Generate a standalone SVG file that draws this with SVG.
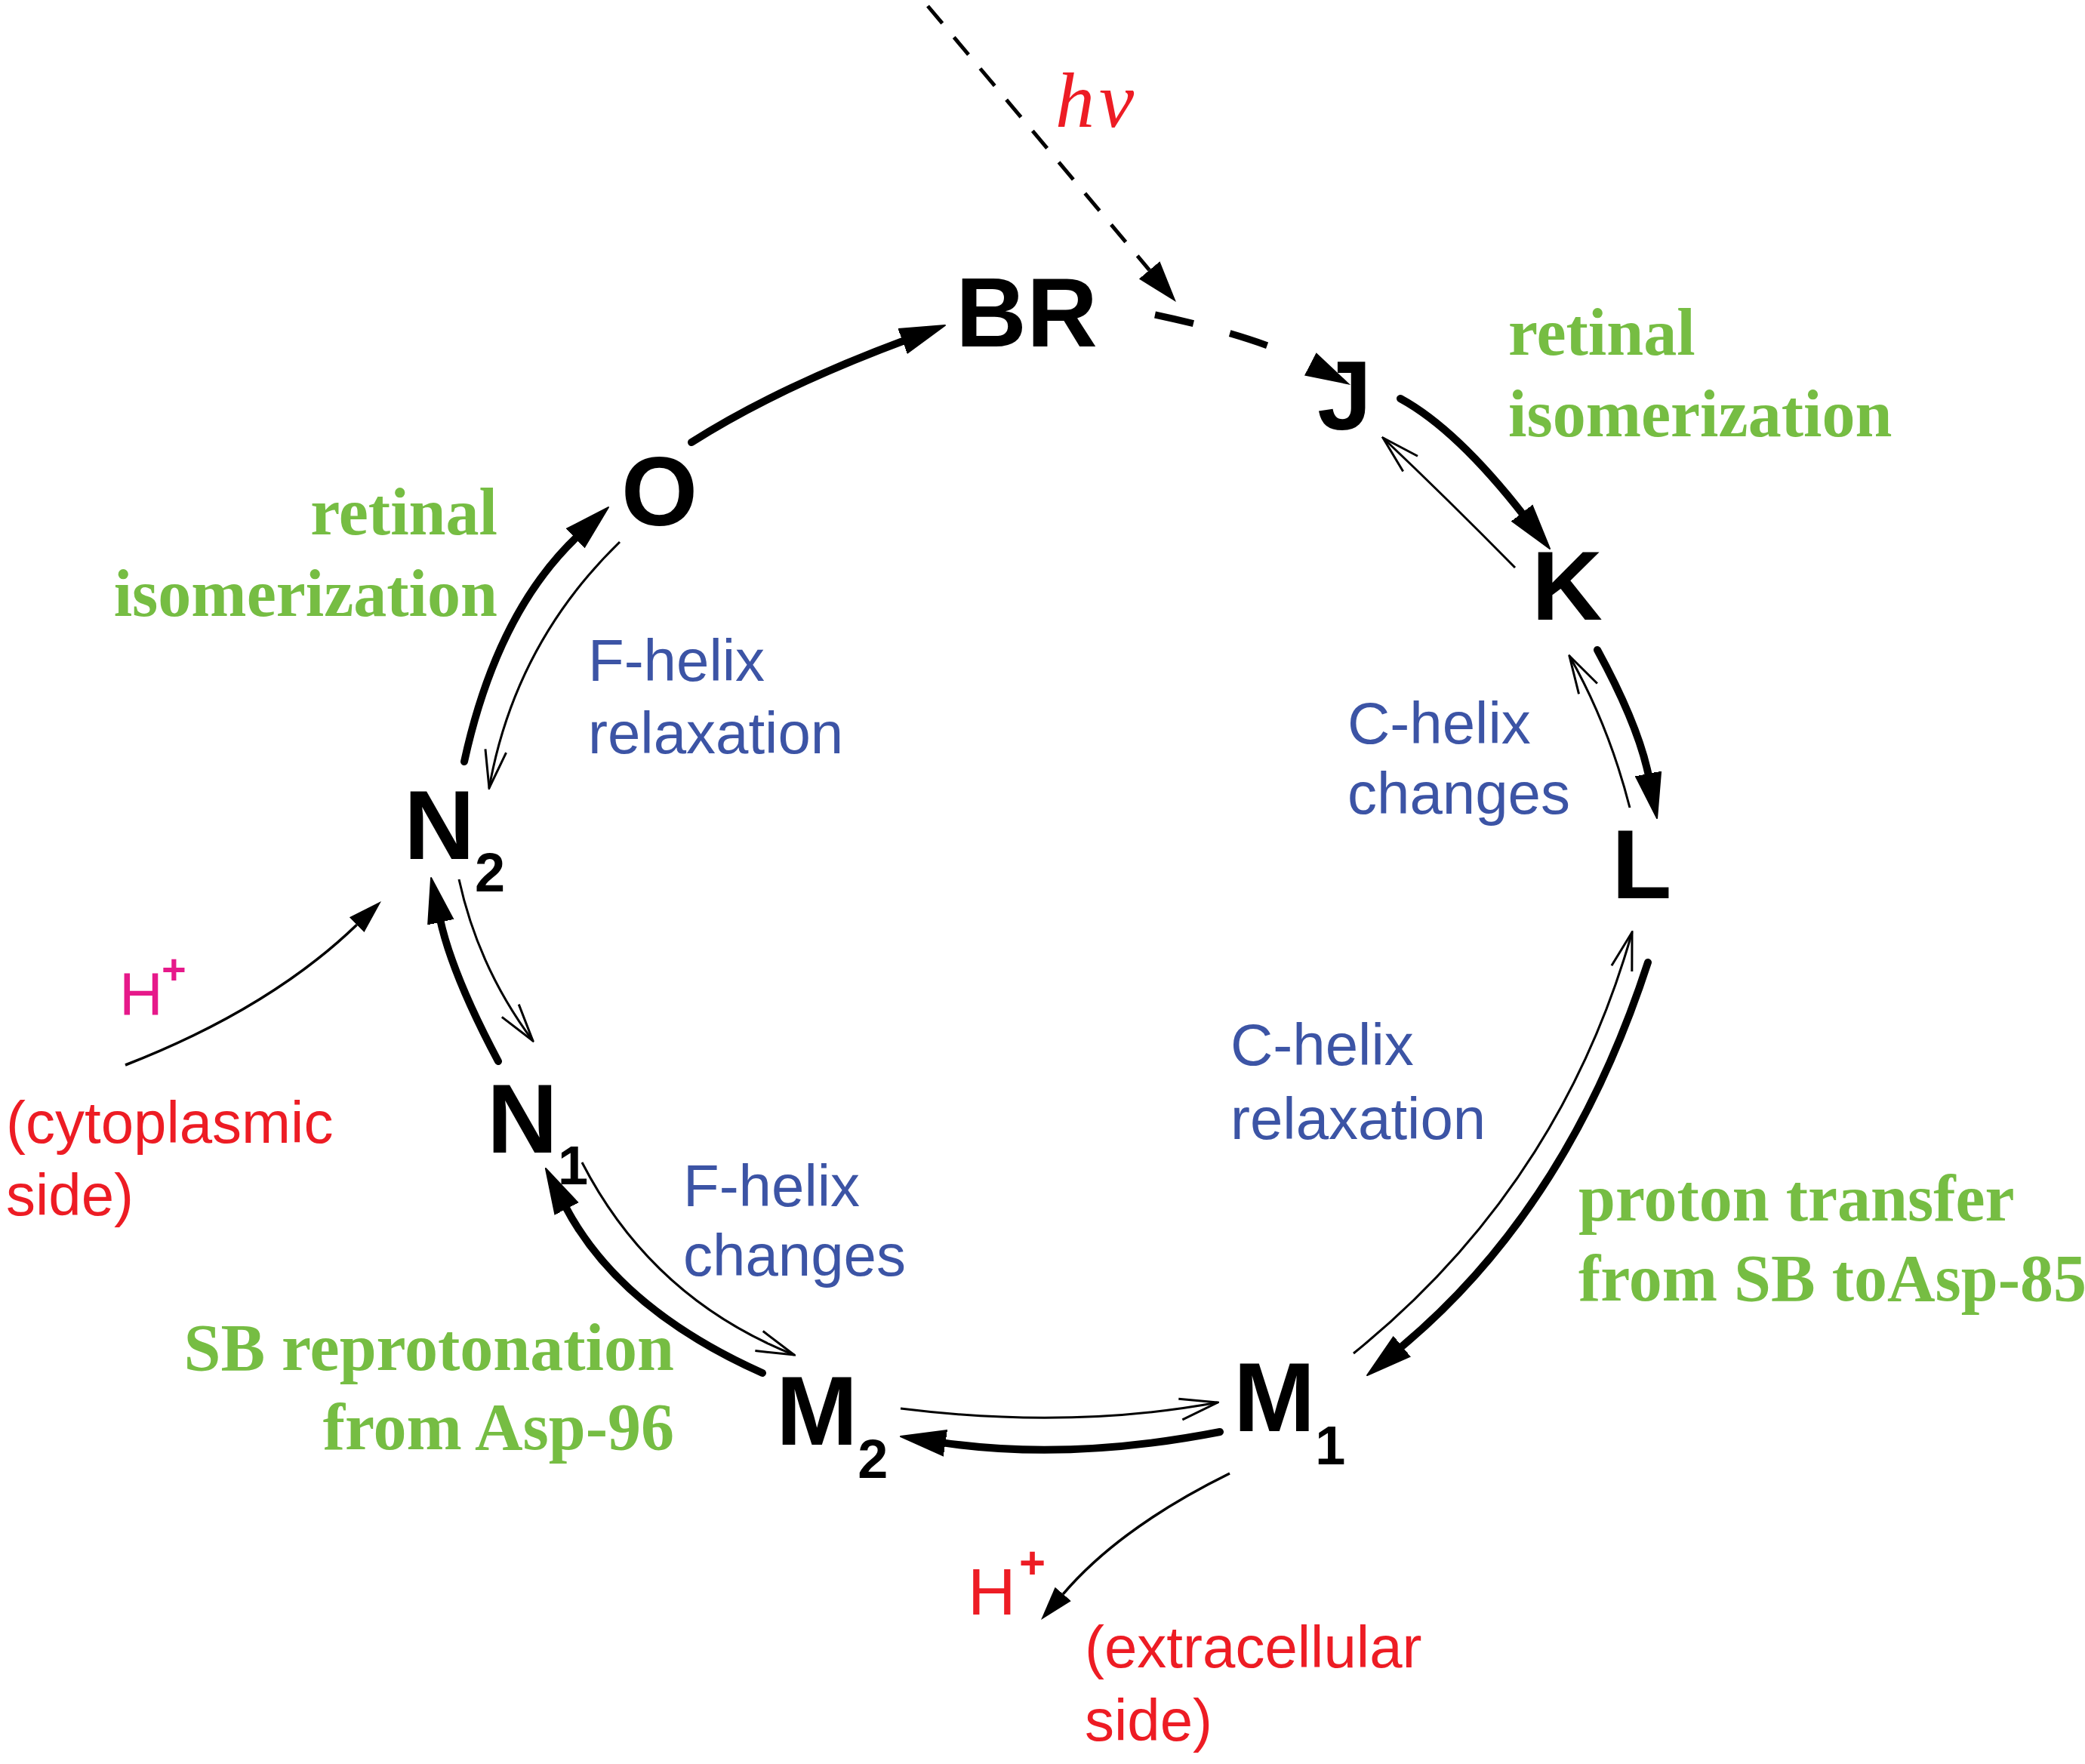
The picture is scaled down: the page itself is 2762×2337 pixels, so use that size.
<svg xmlns="http://www.w3.org/2000/svg" width="2762" height="2337" viewBox="0 0 2762 2337">
<style>
.node{font-family:"Liberation Sans",Arial,sans-serif;font-weight:bold;font-size:130px;fill:#000}
.green{font-family:"Liberation Serif","Times New Roman",serif;font-weight:bold;font-size:88px;fill:#76bd43}
.blue{font-family:"Liberation Sans",Arial,sans-serif;font-size:78px;fill:#3c54a5}
.red{font-family:"Liberation Sans",Arial,sans-serif;font-size:78px;fill:#ed1c24}
.thick{fill:none;stroke:#000;stroke-width:10;stroke-linecap:round}
.thin{fill:none;stroke:#000;stroke-width:3}
.med{fill:none;stroke:#000;stroke-width:3.5}
</style>
<defs>
<marker id="hThick" viewBox="0 -20 62 40" markerWidth="62" markerHeight="40" refX="5" refY="0" orient="auto" markerUnits="userSpaceOnUse"><path d="M0,-17 L60,0 L0,17 z" fill="#000" stroke="#000" stroke-width="2" stroke-linejoin="round"/></marker>
<marker id="hDash" viewBox="0 -20 62 40" markerWidth="62" markerHeight="40" refX="0" refY="0" orient="auto" markerUnits="userSpaceOnUse"><path d="M0,-17 L60,0 L0,17 z" fill="#000"/></marker>
<marker id="hNu" viewBox="0 -20 56 40" markerWidth="56" markerHeight="40" refX="0" refY="0" orient="auto" markerUnits="userSpaceOnUse"><path d="M0,-18 L55,0 L0,18 z" fill="#000"/></marker>
<marker id="hMed" viewBox="0 -16 47 32" markerWidth="47" markerHeight="32" refX="0" refY="0" orient="auto" markerUnits="userSpaceOnUse"><path d="M0,-14 L45,0 L0,14 z" fill="#000"/></marker>
<marker id="hOpen" viewBox="-54 -17 56 34" markerWidth="56" markerHeight="34" refX="0" refY="0" orient="auto" markerUnits="userSpaceOnUse"><path d="M-50,-14 L0,0 L-50,14" fill="none" stroke="#000" stroke-width="3"/></marker>
</defs>
<rect width="2762" height="2337" fill="#fff"/>

<g id="connectors">
<path d="M1229,8 L1522.6,357.9" fill="none" stroke="#000" stroke-width="5" stroke-dasharray="30 24" marker-end="url(#hNu)"/>
<path d="M1530,417 Q1665.7,445.9 1735.8,482.3" fill="none" stroke="#000" stroke-width="9" stroke-dasharray="52 50 52 300" marker-end="url(#hDash)"/>
<path class="thick" d="M916,586 Q1030,513.5 1200.4,450.2" marker-end="url(#hThick)"/>
<path class="thick" d="M1855,528 Q1929.5,568.5 2019.2,683.6" marker-end="url(#hThick)"/>
<path class="thick" d="M2116,861 Q2171,962 2184.4,1030" marker-end="url(#hThick)"/>
<path class="thick" d="M2183,1275 Q2077,1601.5 1853.4,1786.9" marker-end="url(#hThick)"/>
<path class="thick" d="M1616,1897 Q1415.5,1936 1247.4,1911.1" marker-end="url(#hThick)"/>
<path class="thick" d="M1010,1819 Q819,1733.7 748.2,1596.9" marker-end="url(#hThick)"/>
<path class="thick" d="M660,1406 Q598.7,1290.7 582.7,1216.7" marker-end="url(#hThick)"/>
<path class="thick" d="M615,1009 Q658.3,810.9 765.9,709.7" marker-end="url(#hThick)"/>
<path class="thin" d="M2007,752 Q1916.5,660 1832,580" marker-end="url(#hOpen)"/>
<path class="thin" d="M2159,1070 Q2131,960.5 2079,869" marker-end="url(#hOpen)"/>
<path class="thin" d="M1793,1793 Q2066.5,1572 2162,1235" marker-end="url(#hOpen)"/>
<path class="thin" d="M1193,1866 Q1417,1894 1613,1858" marker-end="url(#hOpen)"/>
<path class="thin" d="M771,1540 Q863.7,1720.1 1052,1795" marker-end="url(#hOpen)"/>
<path class="thin" d="M608,1165 Q633.8,1282.6 706,1379" marker-end="url(#hOpen)"/>
<path class="thin" d="M821,718 Q681.9,853 648,1044" marker-end="url(#hOpen)"/>
<path class="med" d="M166,1411 Q357.3,1336.5 472.6,1225.2" marker-end="url(#hMed)"/>
<path class="med" d="M1629,1952 Q1484,2023.4 1408.3,2111.8" marker-end="url(#hMed)"/>
</g>

<g id="BR"><text class="node" x="1266" y="459">BR</text></g>
<g id="J"><text class="node" x="1745" y="569">J</text></g>
<g id="K"><text class="node" x="2029" y="821">K</text></g>
<g id="L"><text class="node" x="2135" y="1190">L</text></g>
<g id="M1"><text class="node" x="1634" y="1896">M<tspan dy="44" font-size="72">1</tspan></text></g>
<g id="M2"><text class="node" x="1028" y="1914">M<tspan dy="44" font-size="72">2</tspan></text></g>
<g id="N1"><text class="node" x="645" y="1527">N<tspan dy="42" font-size="72">1</tspan></text></g>
<g id="N2"><text class="node" x="535" y="1138">N<tspan dy="43" font-size="72">2</tspan></text></g>
<g id="O"><text class="node" x="823" y="696">O</text></g>

<g id="labels">
<text x="1398" y="168" font-family="Liberation Serif,serif" font-style="italic" font-size="104" letter-spacing="6" fill="#ed1c24">hν</text>
<text class="green" x="1998" y="470">retinal</text>
<text class="green" x="1998" y="578">isomerization</text>
<text class="green" x="659" y="708" text-anchor="end">retinal</text>
<text class="green" x="659" y="816" text-anchor="end">isomerization</text>
<text class="green" x="2091" y="1617">proton transfer</text>
<text class="green" x="2091" y="1723">from SB toAsp-85</text>
<text class="green" x="893" y="1815" text-anchor="end">SB reprotonation</text>
<text class="green" x="893" y="1920" text-anchor="end">from Asp-96</text>
<text class="blue" x="1785" y="985">C-helix</text>
<text class="blue" x="1785" y="1078">changes</text>
<text class="blue" x="779" y="902">F-helix</text>
<text class="blue" x="779" y="998">relaxation</text>
<text class="blue" x="1630" y="1411">C-helix</text>
<text class="blue" x="1630" y="1509">relaxation</text>
<text class="blue" x="905" y="1598">F-helix</text>
<text class="blue" x="905" y="1690">changes</text>
<text x="158" y="1344" font-family="Liberation Sans,Arial,sans-serif" font-size="80" fill="#e6198a">H<tspan x="214" y="1303" font-size="56" font-weight="bold">+</tspan></text>
<text class="red" x="8" y="1514">(cytoplasmic</text>
<text class="red" x="8" y="1610">side)</text>
<text x="1282" y="2139" font-family="Liberation Sans,Arial,sans-serif" font-size="88" fill="#ed1c24">H<tspan x="1350" y="2091" font-size="60" font-weight="bold">+</tspan></text>
<text class="red" x="1437" y="2209">(extracellular</text>
<text class="red" x="1437" y="2306">side)</text>
</g>
</svg>
